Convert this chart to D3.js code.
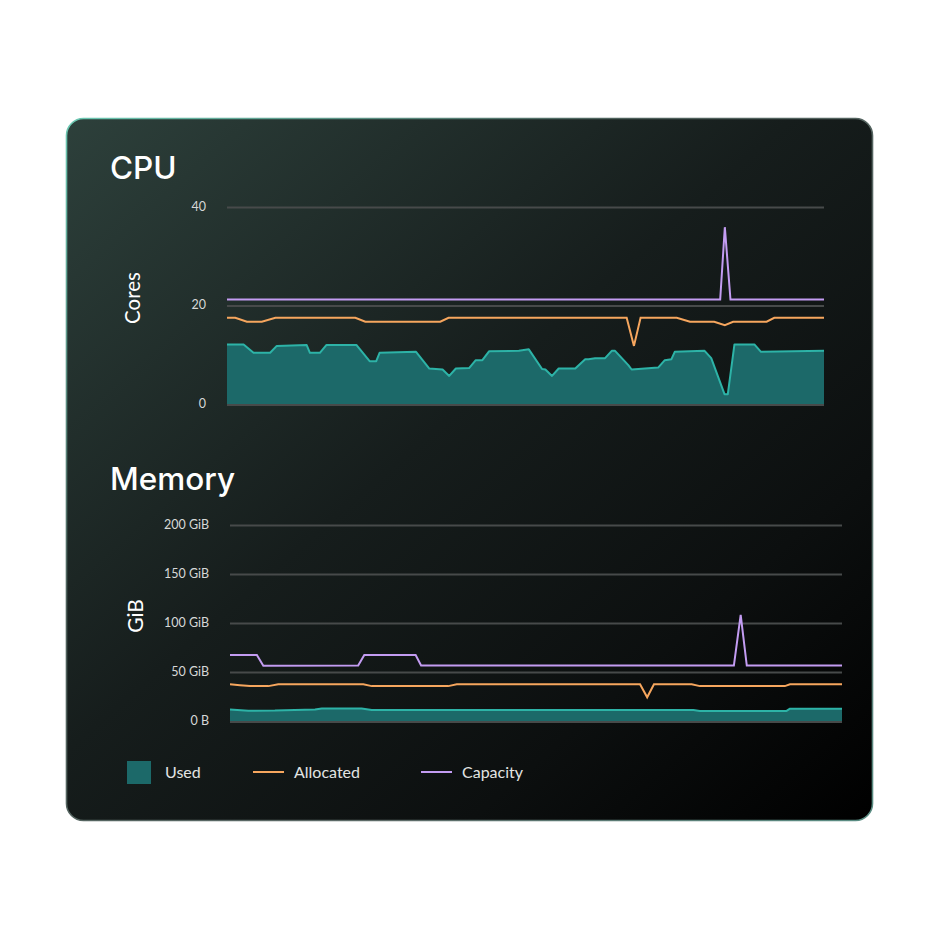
<!DOCTYPE html>
<html><head><meta charset="utf-8">
<script src="https://cdn.jsdelivr.net/npm/d3@7"></script>
<style>html,body{margin:0;padding:0;background:#fff;}svg{display:block;}</style>
</head><body>
<svg id="chart" width="940" height="940"></svg>
<script>
// ---- Data (time index 0..180 across the window) ----
const cpuUsedT = [0,5,8,13,15,24,25,28,30,39,43,45,46,57,61,65,67,69,73,75,77,79,88,91,95,96,98,100,105,108,109,111,114,116,117,121,122,130,132,134,135,144,146,150,151,153,159,161,180];
const cpuUsedV = [12.1,12.1,10.4,10.4,11.8,12.0,10.4,10.4,12.0,12.0,8.7,8.7,10.4,10.6,7.2,7.0,5.7,7.2,7.3,8.9,8.9,10.7,10.8,11.1,7.1,7.0,5.7,7.2,7.2,9.1,9.1,9.3,9.3,10.8,10.8,7.9,7.0,7.4,8.9,9.1,10.6,10.8,9.3,2.0,2.0,12.1,12.1,10.6,10.8];
const cpuAllocT = [0,2.5,6,10.5,14.6,38.7,41.7,64.3,66.8,120.5,122.7,124.7,135.6,139.6,146.9,150.1,152.6,162.7,165,180];
const cpuAllocV = [17.5,17.5,16.7,16.7,17.5,17.5,16.7,16.7,17.5,17.5,11.8,17.5,17.5,16.7,16.7,16.0,16.7,16.7,17.5,17.5];
const cpuCapT = [0,148.7,150.1,151.8,180];
const cpuCapV = [21.2,21.2,35.9,21.2,21.2];
const cpuTicks = [0,20,40];

const memUsedT = [0,5.4,13.2,25,27,38.7,41.7,136.3,138.2,163.7,164.7,180];
const memUsedV = [11.8,10.5,10.6,11.8,12.8,12.8,11.2,11.2,10.2,10.3,12.6,12.6];
const memAllocT = [0,2.9,5.9,11.3,14.2,39.2,41.7,64.2,66.7,120.6,122.7,124.7,135.8,138.2,163.2,164.7,180];
const memAllocV = [37.4,36.6,35.6,35.6,37.4,37.4,35.6,35.6,37.4,37.4,24.2,37.4,37.4,35.6,35.6,37.4,37.4];
const memCapT = [0,7.9,9.8,37.7,39.5,54.6,56.2,148.2,150.2,152,180];
const memCapV = [67.3,67.3,56.4,56.6,67.3,67.3,56.6,56.6,108.2,56.6,56.6];
const memTicks = [0,50,100,150,200];
const memTickLabels = ["0 B","50 GiB","100 GiB","150 GiB","200 GiB"];

const legendItems = ["Used","Allocated","Capacity"];

// ---- Styles ----
const C_USED_FILL = "#1c6969", C_USED_LINE = "#2db3a7", C_ALLOC = "#f6a65e", C_CAP = "#c39cf2", C_GRID = "#474a4a";

const svg = d3.select("#chart");
const defs = svg.append("defs");
const bg = defs.append("linearGradient").attr("id","bg").attr("x1","0").attr("y1","0").attr("x2","1").attr("y2","1");
bg.append("stop").attr("offset","0").attr("stop-color","#2d403b");
bg.append("stop").attr("offset","0.45").attr("stop-color","#161d1c");
bg.append("stop").attr("offset","0.75").attr("stop-color","#0c0f0f");
bg.append("stop").attr("offset","1").attr("stop-color","#000000");
const bd = defs.append("linearGradient").attr("id","bd").attr("x1","0").attr("y1","0").attr("x2","1").attr("y2","1");
bd.append("stop").attr("offset","0").attr("stop-color","#6cc9b3");
bd.append("stop").attr("offset","0.35").attr("stop-color","#4d5f5a");
bd.append("stop").attr("offset","0.7").attr("stop-color","#5e6b68");
bd.append("stop").attr("offset","1").attr("stop-color","#5a8e84");

svg.append("rect").attr("x",66.5).attr("y",118.5).attr("width",806).attr("height",702)
  .attr("rx",17).attr("fill","url(#bg)").attr("stroke","url(#bd)").attr("stroke-width",1.6);

const titleFont = "Inter, 'Noto Sans', sans-serif";
const labelFont = "Lato, 'Noto Sans', sans-serif";

function panel(o){
  const x = d3.scaleLinear().domain([0,180]).range([o.x0,o.x1]);
  const y = d3.scaleLinear().domain([0,o.ymax]).range([o.y0,o.y1]);
  const g = svg.append("g");
  // gridlines
  const grid = g.append("g").attr("transform",`translate(${o.x0},0)`)
    .call(d3.axisLeft(y).tickValues(o.ticks).tickSize(-(o.x1-o.x0)).tickFormat(""));
  grid.select(".domain").remove();
  grid.selectAll("line").attr("stroke",C_GRID).attr("stroke-width",2);
  // labels
  const lab = g.append("g").attr("transform",`translate(${o.labelX},0)`)
    .call(d3.axisLeft(y).tickValues(o.ticks).tickSize(0).tickPadding(0).tickFormat((d,i)=>o.tickLabels[i]));
  lab.select(".domain").remove();
  lab.selectAll("text").attr("fill","#d6d8d7").attr("font-family",labelFont).attr("font-size",12.5).attr("dy","0.25em");
  // used area
  const used = o.usedT.map((t,i)=>[t,o.usedV[i]]);
  g.append("path").datum(used).attr("fill",C_USED_FILL)
    .attr("d",d3.area().x(d=>x(d[0])).y0(y(0)).y1(d=>y(d[1])));
  g.append("path").datum(used).attr("fill","none").attr("stroke",C_USED_LINE).attr("stroke-width",2).attr("stroke-linejoin","round")
    .attr("d",d3.line().x(d=>x(d[0])).y(d=>y(d[1])));
  const line = d3.line().x(d=>x(d[0])).y(d=>y(d[1]));
  g.append("path").datum(o.allocT.map((t,i)=>[t,o.allocV[i]])).attr("fill","none").attr("stroke",C_ALLOC).attr("stroke-width",2).attr("d",line);
  g.append("path").datum(o.capT.map((t,i)=>[t,o.capV[i]])).attr("fill","none").attr("stroke",C_CAP).attr("stroke-width",2).attr("d",line);
  // baseline
  g.append("line").attr("x1",o.x0).attr("x2",o.x1).attr("y1",y(0)+1).attr("y2",y(0)+1).attr("stroke",C_GRID).attr("stroke-width",2);
  // title
  svg.append("text").attr("x",110).attr("y",o.titleY).text(o.title).attr("fill","#ffffff")
    .attr("font-family",titleFont).attr("font-weight",500).attr("font-size",31.5);
  svg.append("text").attr("transform",`translate(${o.axX},${o.axY}) rotate(-90)`).attr("text-anchor","middle")
    .text(o.axTitle).attr("fill","#ffffff").attr("font-family",labelFont).attr("font-size",o.axSize);
}

panel({x0:227,x1:824,y0:404,y1:207,ymax:40,ticks:cpuTicks,tickLabels:cpuTicks.map(String),labelX:206,
  usedT:cpuUsedT,usedV:cpuUsedV,allocT:cpuAllocT,allocV:cpuAllocV,capT:cpuCapT,capV:cpuCapV,
  title:"CPU",titleY:179,axTitle:"Cores",axX:140,axY:298,axSize:20.5});
panel({x0:230,x1:842,y0:721,y1:525,ymax:200,ticks:memTicks,tickLabels:memTickLabels,labelX:209,
  usedT:memUsedT,usedV:memUsedV,allocT:memAllocT,allocV:memAllocV,capT:memCapT,capV:memCapV,
  title:"Memory",titleY:490,axTitle:"GiB",axX:143,axY:616,axSize:21});

// legend
const lg = svg.append("g");
lg.append("rect").attr("x",127).attr("y",761).attr("width",24).attr("height",23).attr("fill",C_USED_FILL);
lg.append("line").attr("x1",253).attr("x2",284).attr("y1",772).attr("y2",772).attr("stroke",C_ALLOC).attr("stroke-width",2);
lg.append("line").attr("x1",421).attr("x2",452).attr("y1",772).attr("y2",772).attr("stroke",C_CAP).attr("stroke-width",2);
const lx = [165,294,462];
legendItems.forEach((s,i)=>{
  lg.append("text").attr("x",lx[i]).attr("y",772).attr("dy","0.35em").text(s)
    .attr("fill","#e2e4e3").attr("font-family",labelFont).attr("font-size",16);
});
</script>
</body></html>
